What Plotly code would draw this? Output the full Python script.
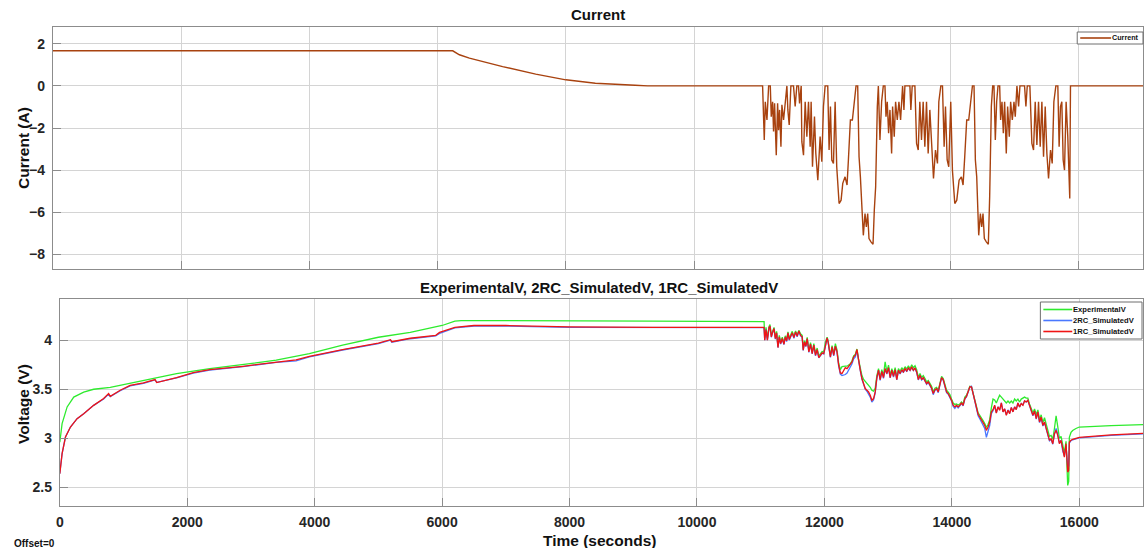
import plotly.graph_objects as go

# ---------------- Current (A) ----------------
CUR_T = [0, 6236, 6340, 6496, 7014, 7530, 8000, 8460, 9080, 9270, 9275,
         11068, 11094, 11110, 11136, 11162, 11188, 11203, 11224, 11239, 11255,
         11281, 11302, 11317, 11333, 11354, 11369, 11395, 11421, 11447, 11462,
         11483, 11509, 11550, 11576, 11602, 11628, 11644, 11670, 11680, 11706,
         11732, 11758, 11784, 11810, 11825, 11846, 11877, 11898, 11929, 11965,
         11991, 12017, 12043, 12084, 12105, 12126, 12147, 12173, 12199, 12224,
         12261, 12292, 12318, 12354, 12385, 12406, 12437, 12468, 12499, 12525,
         12551, 12572, 12593, 12613, 12639, 12665, 12686, 12707, 12727, 12758,
         12790, 12810, 12831, 12857, 12873, 12898, 12924, 12950, 12976, 12992,
         13012, 13033, 13054, 13080, 13095, 13121, 13142, 13168, 13194, 13220,
         13251, 13272, 13287, 13365, 13380, 13401, 13443, 13469, 13495, 13520,
         13546, 13572, 13598, 13624, 13650, 13676, 13702, 13733, 13764, 13795,
         13816, 13847, 13873, 13899, 13920, 13946, 13971, 14002, 14028, 14065,
         14096, 14132, 14168, 14194, 14220, 14251, 14282, 14314, 14340, 14365,
         14386, 14407, 14438, 14464, 14485, 14505, 14526, 14557, 14588, 14609,
         14635, 14656, 14676, 14697, 14718, 14739, 14765, 14780, 14801, 14822,
         14842, 14868, 14889, 14915, 14936, 14962, 14988, 15008, 15034, 15060,
         15081, 15153, 15174, 15195, 15236, 15267, 15293, 15319, 15345, 15371,
         15397, 15423, 15449, 15475, 15501, 15527, 15558, 15584, 15610, 15641,
         15672, 15692, 15713, 15734, 15755, 15776, 15801, 15827, 15858, 15869,
         17000]
CUR_A = [1.67, 1.67, 1.48, 1.32, 0.92, 0.56, 0.29, 0.13, 0.03, 0.02, 0.0,
         0.0, -2.57, -0.75, -1.62, 0.0, 0.0, -1.46, -0.75, -2.17, -0.83,
         -3.29, -0.83, -2.10, -1.14, -2.89, -0.90, -1.62, -0.83, 0.0, -1.14,
         -1.86, 0.0, 0.0, -0.98, 0.0, 0.0, -0.83, 0.0, -2.65, -3.29,
         -0.75, -2.41, -0.75, -2.89, -0.75, -3.84, -1.46, -3.21, -4.48, -2.41,
         -3.60, -0.98, 0.0, 0.0, -3.05, -0.98, -3.52, -3.68, -0.75, -3.84,
         -5.59, -5.43, -4.63, -4.32, -4.71, -3.52, -1.62, -1.62, -0.75, 0.0,
         0.0, -3.37, -4.32, -5.75, -7.10, -6.06, -6.70, -6.06, -7.25, -7.41,
         -7.52, -5.90, -4.79, -0.98, 0.0, -2.57, -0.75, 0.0, 0.0, -1.46,
         -0.75, -2.25, -1.14, -3.21, -0.98, -2.41, -0.75, -1.62, -0.75, -1.62,
         0.0, -1.14, 0.0, 0.0, -1.14, 0.0, 0.0, -2.73, -3.05, -0.75,
         -2.57, -0.75, -2.89, -0.75, -3.21, -1.14, -2.41, -4.40, -3.05, -3.68,
         -0.75, 0.0, 0.0, -2.89, -0.98, -3.52, -3.84, -0.75, -4.00, -5.59,
         -5.43, -4.48, -4.32, -4.71, -3.37, -1.62, -1.62, -0.75, 0.0, 0.0,
         -3.52, -4.32, -7.10, -6.06, -6.70, -6.06, -7.25, -7.41, -7.52, -5.27,
         -0.98, 0.0, 0.0, -2.57, -0.75, 0.0, 0.0, -1.62, -0.75, -2.25,
         -0.75, -3.21, -0.98, -2.41, -0.75, -1.62, -0.75, -1.46, 0.0, -0.98,
         0.0, 0.0, -0.98, 0.0, 0.0, -2.73, -3.05, -0.75, -2.81, -0.75,
         -2.89, -0.75, -3.37, -0.98, -3.21, -4.40, -3.05, -3.68, -0.75, 0.0,
         0.0, -2.89, -0.98, -0.75, -3.52, -4.00, -0.75, -2.41, -5.35, 0.0,
         0.0]

# ---------------- Voltage (V): charging phase ----------------
EXP_T_CHG = [0, 36, 115, 219, 375, 531, 792, 1313, 1833, 2354, 2875, 3396,
             3917, 4438, 5000, 5500, 6000, 6200, 6300, 9200, 9300, 11053]
EXP_V_CHG = [2.96, 3.15, 3.32, 3.42, 3.47, 3.50, 3.52, 3.59, 3.66, 3.71, 3.755, 3.796,
             3.864, 3.949, 4.03, 4.08, 4.15, 4.195, 4.20, 4.20, 4.195, 4.19]

SIM_T_CHG = [0, 36, 89, 167, 271, 375, 531, 688, 766, 792, 948, 1104,
             1313, 1495, 1521, 1833, 2094, 2354, 2875, 3396, 3708, 3917,
             4438, 5000, 5190, 5210, 5500, 5900, 5960, 6200, 6500, 7000,
             8000, 9300, 11053]
RC2_V_CHG = [2.64, 2.843, 3.013, 3.115, 3.20, 3.25, 3.336, 3.40, 3.45, 3.425, 3.485, 3.535,
             3.56, 3.595, 3.57, 3.615, 3.665, 3.695, 3.73, 3.775, 3.79, 3.83,
             3.90, 3.965, 4.00, 3.98, 4.015, 4.045, 4.07, 4.125, 4.145, 4.145,
             4.13, 4.128, 4.128]
RC1_V_CHG = [2.64, 2.843, 3.013, 3.115, 3.20, 3.25, 3.336, 3.405, 3.456, 3.428, 3.49, 3.54,
             3.564, 3.598, 3.568, 3.619, 3.67, 3.70, 3.734, 3.779, 3.80, 3.836,
             3.905, 3.97, 4.005, 3.985, 4.02, 4.05, 4.08, 4.13, 4.15, 4.15,
             4.135, 4.13, 4.13]

# ---------------- Voltage (V): drive-cycle phase and rest ----------------
DRV_T = [11063, 11084, 11105, 11131, 11146, 11167, 11188, 11209, 11230, 11250,
         11271, 11292, 11313, 11339, 11365, 11386, 11407, 11428, 11448, 11469,
         11495, 11521, 11547, 11573, 11599, 11625, 11651, 11667, 11688, 11709,
         11730, 11756, 11782, 11808, 11834, 11860, 11886, 11912, 11938, 11964,
         11990, 12016, 12042, 12058, 12079, 12094, 12120, 12146, 12172, 12198,
         12224, 12250, 12276, 12302, 12328, 12355, 12381, 12407, 12433, 12459,
         12485, 12511, 12537, 12563, 12589, 12615, 12641, 12667, 12693, 12719,
         12745, 12771, 12797, 12823, 12849, 12875, 12901, 12927, 12953, 12980,
         13006, 13032, 13058, 13084, 13110, 13136, 13162, 13188, 13214, 13240,
         13266, 13292, 13318, 13344, 13370, 13396, 13422, 13448, 13474, 13500,
         13526, 13552, 13578, 13604, 13630, 13656, 13682, 13708, 13735, 13761,
         13787, 13813, 13839, 13865, 13891, 13917, 13943, 13969, 13995, 14021,
         14047, 14073, 14099, 14125, 14151, 14177, 14204, 14230, 14256, 14282,
         14308, 14334, 14360, 14386, 14412, 14438, 14464, 14490, 14516, 14542,
         14568, 14594, 14620, 14646, 14672, 14698, 14724, 14750, 14777, 14803,
         14829, 14855, 14881, 14907, 14933, 14959, 14985, 15011, 15037, 15063,
         15089, 15115, 15141, 15167, 15193, 15219, 15246, 15272, 15298, 15324,
         15350, 15376, 15402, 15428, 15454, 15480, 15506, 15532, 15558, 15584,
         15610, 15636, 15662, 15688, 15714, 15740, 15766, 15792, 15818, 15834,
         15844, 15870, 15896, 15948, 16000, 16500, 17000]
RC1_V_DRV = [4.00, 4.109, 4.00, 4.129, 4.143, 4.034, 4.085, 4.119, 4.017, 4.075,
             3.925, 4.034, 3.966, 4.017, 3.959, 4.034, 3.993, 4.075, 4.007, 4.041,
             4.075, 4.027, 4.085, 4.041, 4.095, 4.051, 4.034, 3.898, 3.983, 3.939,
             4.017, 3.881, 3.959, 3.864, 3.949, 3.847, 3.905, 3.823, 3.847, 3.871,
             3.864, 3.966, 4.024, 3.983, 3.881, 3.830, 3.932, 3.847, 3.939, 3.881,
             3.745, 3.666, 3.660, 3.694, 3.721, 3.711, 3.734, 3.745, 3.779, 3.830,
             3.847, 3.905, 3.779, 3.694, 3.609, 3.558, 3.507, 3.490, 3.473, 3.439,
             3.388, 3.405, 3.473, 3.619, 3.694, 3.598, 3.683, 3.619, 3.711, 3.660,
             3.721, 3.619, 3.694, 3.632, 3.700, 3.598, 3.694, 3.660, 3.700, 3.677,
             3.711, 3.687, 3.717, 3.694, 3.728, 3.694, 3.717, 3.677, 3.598, 3.643,
             3.598, 3.619, 3.592, 3.558, 3.575, 3.541, 3.513, 3.456, 3.496, 3.507,
             3.473, 3.551, 3.619, 3.598, 3.524, 3.473, 3.456, 3.428, 3.388, 3.337,
             3.320, 3.337, 3.320, 3.337, 3.360, 3.337, 3.405, 3.428, 3.473, 3.524,
             3.524, 3.456, 3.371, 3.320, 3.245, 3.217, 3.183, 3.166, 3.132, 3.081,
             3.115, 3.166, 3.269, 3.292, 3.337, 3.258, 3.320, 3.286, 3.360, 3.269,
             3.300, 3.234, 3.286, 3.251, 3.313, 3.269, 3.320, 3.292, 3.360, 3.320,
             3.354, 3.337, 3.381, 3.371, 3.388, 3.337, 3.286, 3.234, 3.279, 3.200,
             3.269, 3.166, 3.217, 3.132, 3.166, 3.098, 3.047, 2.979, 2.996, 2.945,
             3.047, 3.081, 3.030, 2.945, 2.979, 2.877, 2.809, 2.945, 2.656, 2.673,
             2.962, 2.980, 2.990, 3.000, 3.010, 3.035, 3.050]
RC2_V_DRV = [4.00, 4.105, 4.00, 4.125, 4.14, 4.03, 4.08, 4.115, 4.01, 4.07,
             3.925, 4.03, 3.96, 4.01, 3.955, 4.03, 3.985, 4.07, 4.00, 4.035,
             4.07, 4.02, 4.08, 4.035, 4.09, 4.045, 4.03, 3.895, 3.98, 3.935,
             4.01, 3.875, 3.955, 3.86, 3.945, 3.84, 3.90, 3.82, 3.84, 3.865,
             3.86, 3.96, 4.02, 3.98, 3.875, 3.825, 3.925, 3.84, 3.935, 3.875,
             3.735, 3.655, 3.64, 3.645, 3.65, 3.665, 3.70, 3.72, 3.76, 3.81,
             3.83, 3.89, 3.77, 3.69, 3.60, 3.55, 3.50, 3.48, 3.455, 3.42,
             3.37, 3.39, 3.46, 3.61, 3.69, 3.59, 3.68, 3.61, 3.705, 3.655,
             3.715, 3.615, 3.69, 3.625, 3.695, 3.595, 3.69, 3.655, 3.695, 3.67,
             3.705, 3.68, 3.715, 3.69, 3.72, 3.69, 3.715, 3.67, 3.595, 3.64,
             3.595, 3.615, 3.585, 3.55, 3.57, 3.535, 3.505, 3.445, 3.49, 3.50,
             3.465, 3.545, 3.615, 3.59, 3.52, 3.465, 3.45, 3.42, 3.38, 3.325,
             3.305, 3.33, 3.31, 3.33, 3.355, 3.33, 3.40, 3.425, 3.47, 3.52,
             3.53, 3.45, 3.36, 3.305, 3.23, 3.20, 3.165, 3.14, 3.10, 3.01,
             3.06, 3.13, 3.25, 3.28, 3.33, 3.26, 3.32, 3.29, 3.36, 3.27,
             3.30, 3.24, 3.29, 3.255, 3.315, 3.27, 3.32, 3.295, 3.36, 3.32,
             3.355, 3.34, 3.38, 3.37, 3.385, 3.335, 3.28, 3.23, 3.275, 3.195,
             3.265, 3.16, 3.21, 3.125, 3.16, 3.095, 3.04, 2.975, 2.99, 2.94,
             3.04, 3.10, 3.04, 2.95, 2.98, 2.87, 2.82, 2.92, 2.72, 2.72,
             2.95, 2.975, 2.985, 2.995, 3.005, 3.03, 3.045]
EXP_V_DRV = [4.03, 4.13, 4.02, 4.14, 4.16, 4.05, 4.10, 4.13, 4.03, 4.09,
             3.94, 4.05, 3.98, 4.03, 3.975, 4.045, 4.005, 4.085, 4.02, 4.055,
             4.09, 4.04, 4.095, 4.055, 4.10, 4.065, 4.05, 3.915, 3.995, 3.955,
             4.03, 3.90, 3.975, 3.88, 3.965, 3.865, 3.92, 3.84, 3.86, 3.885,
             3.88, 3.98, 4.03, 3.995, 3.90, 3.845, 3.945, 3.86, 3.966, 3.90,
             3.765, 3.70, 3.73, 3.735, 3.735, 3.735, 3.745, 3.76, 3.79, 3.84,
             3.855, 3.91, 3.80, 3.72, 3.64, 3.60, 3.58, 3.57, 3.55, 3.52,
             3.49, 3.48, 3.51, 3.64, 3.71, 3.62, 3.70, 3.64, 3.78, 3.68,
             3.745, 3.64, 3.71, 3.65, 3.72, 3.62, 3.71, 3.68, 3.72, 3.695,
             3.73, 3.705, 3.74, 3.71, 3.75, 3.72, 3.74, 3.70, 3.62, 3.66,
             3.62, 3.64, 3.61, 3.575, 3.59, 3.56, 3.53, 3.47, 3.51, 3.52,
             3.49, 3.56, 3.63, 3.61, 3.54, 3.49, 3.47, 3.445, 3.40, 3.36,
             3.345, 3.35, 3.34, 3.35, 3.37, 3.35, 3.42, 3.44, 3.48, 3.53,
             3.525, 3.465, 3.38, 3.33, 3.26, 3.235, 3.20, 3.18, 3.15, 3.11,
             3.14, 3.19, 3.31, 3.40, 3.39, 3.36, 3.40, 3.44, 3.42, 3.40,
             3.39, 3.36, 3.38, 3.36, 3.38, 3.36, 3.40, 3.38, 3.40, 3.37,
             3.40, 3.41, 3.42, 3.41, 3.41, 3.35, 3.30, 3.26, 3.30, 3.24,
             3.29, 3.19, 3.24, 3.16, 3.21, 3.14, 3.08, 3.02, 3.03, 2.99,
             3.10, 3.23, 3.12, 3.00, 3.02, 2.92, 2.85, 2.97, 2.52, 2.56,
             3.01, 3.06, 3.08, 3.10, 3.115, 3.13, 3.14]

X_TICKS = [0, 2000, 4000, 6000, 8000, 10000, 12000, 14000, 16000]
X_TICK_TEXT = ["0", "2000", "4000", "6000", "8000", "10000", "12000", "14000", "16000"]
CUR_TICKS = [-8, -6, -4, -2, 0, 2]
V_TICKS = [2.5, 3, 3.5, 4]
V_TICK_TEXT = ["2.5", "3", "3.5", "4"]

exp_t = EXP_T_CHG + DRV_T
exp_v = EXP_V_CHG + EXP_V_DRV
sim_t = SIM_T_CHG + DRV_T
rc2_v = RC2_V_CHG + RC2_V_DRV
rc1_v = RC1_V_CHG + RC1_V_DRV

W, H = 1144, 548
FONT = "Liberation Sans, Arial, Helvetica, sans-serif"
TXT = "#262626"
GRID = "#d4d4d4"
FRAME = "#8c8c8c"

fig = go.Figure()
fig.add_trace(go.Scatter(x=CUR_T, y=CUR_A, mode="lines", name="Current",
                         line=dict(color="#A8420F", width=1.4),
                         xaxis="x", yaxis="y"))
fig.add_trace(go.Scatter(x=exp_t, y=exp_v, mode="lines", name="ExperimentalV",
                         line=dict(color="#2EEB2E", width=1.3),
                         xaxis="x2", yaxis="y2"))
fig.add_trace(go.Scatter(x=sim_t, y=rc2_v, mode="lines", name="2RC_SimulatedV",
                         line=dict(color="#4A78FF", width=1.3),
                         xaxis="x2", yaxis="y2"))
fig.add_trace(go.Scatter(x=sim_t, y=rc1_v, mode="lines", name="1RC_SimulatedV",
                         line=dict(color="#F01414", width=1.3),
                         xaxis="x2", yaxis="y2"))

axis_common = dict(showgrid=True, gridcolor=GRID, gridwidth=1, zeroline=False,
                   showline=True, linecolor=FRAME, linewidth=1, mirror=True,
                   ticks="inside", ticklen=8, tickcolor=FRAME,
                   tickfont=dict(family=FONT, size=14, color=TXT, weight="bold"))

fig.update_layout(
    width=W, height=H,
    margin=dict(l=0, r=0, t=0, b=0),
    paper_bgcolor="white", plot_bgcolor="white",
    showlegend=False,
    xaxis=dict(axis_common, domain=[49 / W, 1143 / W], range=[0, 17000],
               tickvals=X_TICKS, showticklabels=False, anchor="y"),
    yaxis=dict(axis_common, domain=[1 - 269 / H, 1 - 27 / H], range=[-8.7, 2.8],
               tickvals=CUR_TICKS, anchor="x", ticklabelstandoff=4),
    xaxis2=dict(axis_common, domain=[56 / W, 1143 / W], range=[0, 17000],
                tickvals=X_TICKS, ticktext=X_TICK_TEXT, anchor="y2", ticklabelstandoff=3),
    yaxis2=dict(axis_common, domain=[1 - 506 / H, 1 - 299 / H], range=[2.31, 4.42],
                tickvals=V_TICKS, ticktext=V_TICK_TEXT, anchor="x2", ticklabelstandoff=4),
)


def px(x):
    return x / W


def py(y):
    return 1 - y / H


def draw_legend(traces, left, top, right, row_h, key_len, font_size):
    """Boxed legend in the style of the scope: line key followed by the signal name."""
    bottom = top + row_h * len(traces) + 4
    fig.add_shape(type="rect", xref="paper", yref="paper",
                  x0=px(left), x1=px(right), y0=py(bottom), y1=py(top),
                  line=dict(color="#6e6e6e", width=1), fillcolor="white", layer="above")
    for i, tr in enumerate(traces):
        yc = top + 2 + row_h * (i + 0.5)
        fig.add_shape(type="line", xref="paper", yref="paper",
                      x0=px(left + 3), x1=px(left + 3 + key_len), y0=py(yc), y1=py(yc),
                      line=dict(color=tr.line.color, width=1.6), layer="above")
        fig.add_annotation(text=tr.name, x=px(left + 3 + key_len), y=py(yc),
                           xref="paper", yref="paper", showarrow=False,
                           xanchor="left", yanchor="middle", borderpad=0,
                           font=dict(family=FONT, size=font_size, color="#111", weight="bold"))


draw_legend([fig.data[0]], 1077, 32, 1143, 8, 31, 7.2)
draw_legend(list(fig.data[1:]), 1040, 302, 1142, 11, 29, 7.6)

ann_font = dict(family=FONT, size=15, color="#111", weight="bold")
fig.add_annotation(text="Current", x=px(596), y=py(15), xref="paper", yref="paper",
                   showarrow=False, font=ann_font, xanchor="center", yanchor="middle")
fig.add_annotation(text="ExperimentalV, 2RC_SimulatedV, 1RC_SimulatedV",
                   x=px(597), y=py(287), xref="paper", yref="paper",
                   showarrow=False, font=ann_font, xanchor="center", yanchor="middle")
fig.add_annotation(text="Time (seconds)", x=px(598), y=py(540), xref="paper", yref="paper",
                   showarrow=False, font=dict(family=FONT, size=15.5, color="#111", weight="bold"),
                   xanchor="center", yanchor="middle")
fig.add_annotation(text="Current (A)", x=px(19), y=py(148), xref="paper", yref="paper",
                   showarrow=False, textangle=-90,
                   font=dict(family=FONT, size=15.5, color="#111", weight="bold"),
                   xanchor="center", yanchor="middle")
fig.add_annotation(text="Voltage (V)", x=px(19), y=py(404), xref="paper", yref="paper",
                   showarrow=False, textangle=-90,
                   font=dict(family=FONT, size=15.5, color="#111", weight="bold"),
                   xanchor="center", yanchor="middle")
fig.add_annotation(text="Offset=0", x=px(8), y=py(543), xref="paper", yref="paper",
                   showarrow=False, font=dict(family=FONT, size=10, color="#111", weight="bold"),
                   xanchor="left", yanchor="middle")

fig.write_html("out.html")
